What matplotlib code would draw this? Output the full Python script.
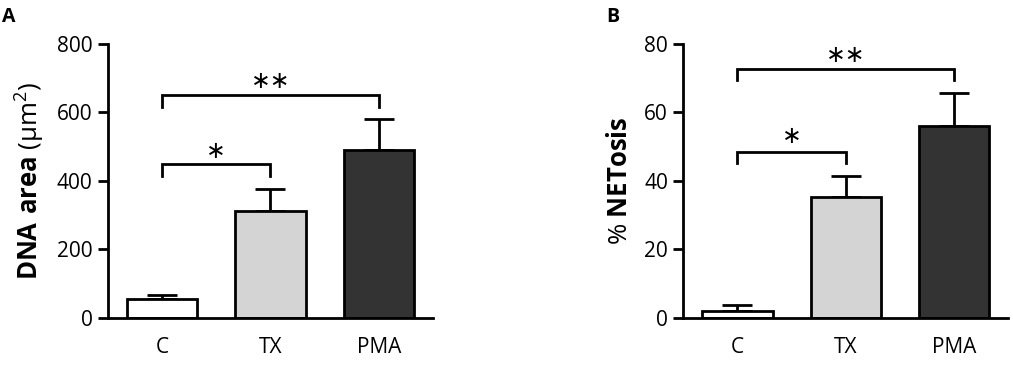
import matplotlib
matplotlib.use('Agg')
import matplotlib.pyplot as plt

plt.rcParams['font.family'] = ['Open Sans', 'DejaVu Sans']
plt.rcParams['mathtext.fontset'] = 'custom'
plt.rcParams['mathtext.rm'] = 'Open Sans'
plt.rcParams['mathtext.bf'] = 'Open Sans:bold'

groups = ['C', 'TX', 'PMA']
colors = ['white', '#d4d4d4', '#333333']

dna_mean = [55, 312, 490]
dna_err = [11, 63, 90]
net_mean = [2.0, 35.4, 56.0]
net_err = [1.7, 6.1, 9.5]

# brackets: (left bar, right bar, y of bar line, leg drop, label, label y)
dna_brackets = [(0, 1, 449, 36, '*', 487), (0, 2, 649, 34, '**', 692)]
net_brackets = [(0, 1, 48.5, 3.4, '*', 53.0), (0, 2, 72.5, 3.2, '**', 76.8)]

fig = plt.figure(figsize=(10.13, 3.67), dpi=100)
ax_a = fig.add_axes([0.1066, 0.1335, 0.3208, 0.7474])
ax_b = fig.add_axes([0.6745, 0.1335, 0.3208, 0.7474])


def draw_panel(ax, means, errs, brackets, ymax, ystep, ylabel):
    x = range(len(groups))
    ax.bar(x, means, width=0.65, color=colors, edgecolor='black', linewidth=2, zorder=2)
    ax.errorbar(x, means, yerr=[[0] * len(errs), errs], fmt='none', ecolor='black',
                elinewidth=2, capsize=11, capthick=2, zorder=1)
    for i, j, y, drop, label, ly in brackets:
        ax.plot([i, i, j, j], [y - drop, y, y, y - drop], color='black', lw=2,
                solid_joinstyle='miter', clip_on=False)
        ax.text((i + j) / 2, ly, label.replace('*', '\u2217'), ha='center', va='center',
                fontsize=17, family=['DejaVu Sans'])
    ax.set_xlim(-0.5, 2.5)
    ax.set_ylim(0, ymax)
    ax.set_yticks(range(0, ymax + 1, ystep))
    ax.set_xticks(list(x))
    ax.set_xticklabels(groups)
    ax.tick_params(axis='x', length=0, pad=14, labelsize=15)
    ax.tick_params(axis='y', length=7, width=2, labelsize=15, pad=4)
    for s in ['top', 'right']:
        ax.spines[s].set_visible(False)
    for s in ['left', 'bottom']:
        ax.spines[s].set_linewidth(2)
    ax.set_ylabel(ylabel, fontsize=18.5, labelpad=8)


draw_panel(ax_a, dna_mean, dna_err, dna_brackets, 800, 200,
           r'$\mathbf{DNA\ area}$ (μm$^2$)')
draw_panel(ax_b, net_mean, net_err, net_brackets, 80, 20,
           r'% $\mathbf{NETosis}$')

fig.text(0.002, 0.94, 'A', fontsize=14, fontweight='bold')
fig.text(0.598, 0.94, 'B', fontsize=14, fontweight='bold')

fig.savefig('out.png', dpi=100)
